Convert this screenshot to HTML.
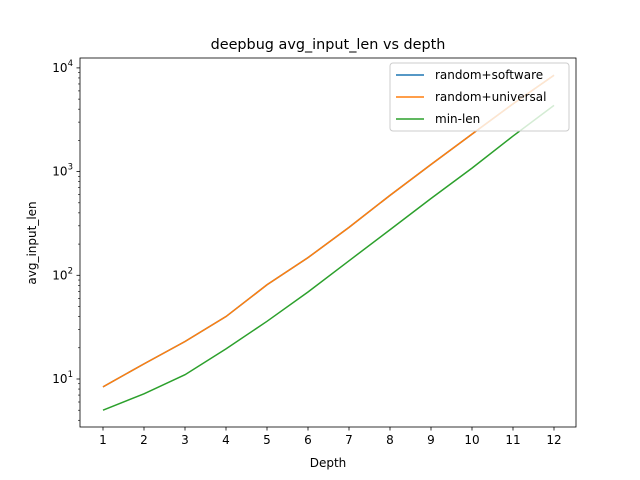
<!DOCTYPE html>
<html><head><meta charset="utf-8"><style>
body{margin:0;background:#fff}
svg{display:block;font-family:"DejaVu Sans","Liberation Sans",sans-serif}
</style></head><body>
<svg id="chart" width="640" height="480" viewBox="0 0 640 480" xmlns="http://www.w3.org/2000/svg">
<rect width="640" height="480" fill="#fff"/>
<text x="328" y="49" font-size="14.4" text-anchor="middle">deepbug avg_input_len vs depth</text>
<g id="marks"></g>
<rect x="80" y="58" width="496" height="369" fill="none" stroke="#000" stroke-width="0.8"/>
<g id="axes"></g>
<text x="328" y="467" font-size="12" text-anchor="middle">Depth</text>
<text transform="translate(36,243) rotate(-90)" font-size="12" text-anchor="middle">avg_input_len</text>
<g>
<rect x="390" y="63" width="179" height="68" rx="3" fill="#fff" fill-opacity="0.8" stroke="#ccc"/>
<line x1="396" y1="75" x2="424" y2="75" stroke="#1f77b4" stroke-width="1.5"/>
<text x="435" y="79" font-size="12">random+software</text>
<line x1="396" y1="97" x2="424" y2="97" stroke="#ff7f0e" stroke-width="1.5"/>
<text x="435" y="101" font-size="12">random+universal</text>
<line x1="396" y1="119" x2="424" y2="119" stroke="#2ca02c" stroke-width="1.5"/>
<text x="435" y="123" font-size="12">min-len</text>
</g>
</svg>
<script>
const depths=[1,2,3,4,5,6,7,8,9,10,11,12];
const randomSoftware=[8.4,14,23,40,81,148,290,590,1170,2300,4500,8500];
const randomUniversal=[8.4,14,23,40,81,148,290,590,1170,2300,4500,8500];
const minLen=[5,7.2,11,19.5,36,69,138,275,550,1080,2200,4350];
const yTickExps=[1,2,3,4];
const ns="http://www.w3.org/2000/svg";
function X(d){return 103+(d-1)*41;}
function Y(v){return 379-(Math.log10(v)-1)*103.7;}
const marks=document.getElementById('marks'),axes=document.getElementById('axes');
function mk(t,a,p){const e=document.createElementNS(ns,t);for(const k in a)e.setAttribute(k,a[k]);p.appendChild(e);return e;}
[[randomSoftware,'#1f77b4','line-random-software'],[randomUniversal,'#ff7f0e','line-random-universal'],[minLen,'#2ca02c','line-min-len']].forEach(([s,c,n])=>{
 const p=mk('polyline',{points:s.map((v,i)=>X(depths[i])+','+Y(v)).join(' '),fill:'none',stroke:c,'stroke-width':1.5},marks);
 
 
});
depths.forEach(d=>{
 mk('line',{x1:X(d),x2:X(d),y1:427,y2:430.5,stroke:'#000','stroke-width':0.8},axes);
 const t=mk('text',{x:X(d),y:444,'font-size':12,'text-anchor':'middle'},axes);
 t.textContent=d;
 
 
});
yTickExps.forEach(e=>{
 const y=Y(Math.pow(10,e));
 mk('line',{x1:76.5,x2:80,y1:y,y2:y,stroke:'#000','stroke-width':0.8},axes);
 const t=mk('text',{x:73,y:y+4,'font-size':12,'text-anchor':'end'},axes);
 t.innerHTML='10<tspan dy="-6" font-size="8.5">'+e+'</tspan>';
 
 
});
for(let e=0;e<=4;e++)for(let m=2;m<=9;m++){const v=m*Math.pow(10,e);const y=Y(v);if(y<58||y>427)continue;mk('line',{x1:78,x2:80,y1:y,y2:y,stroke:'#000','stroke-width':0.6},axes);}
</script>
</body></html>
